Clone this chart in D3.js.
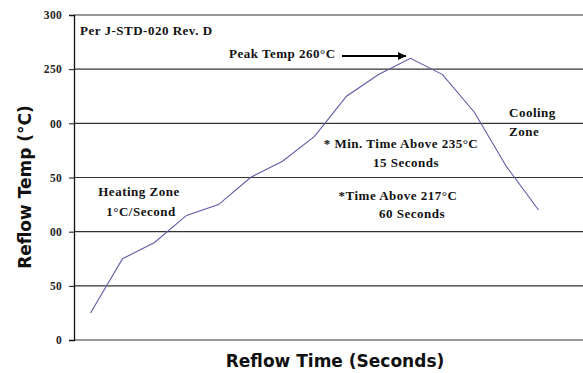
<!DOCTYPE html>
<html>
<head>
<meta charset="utf-8">
<script src="https://cdn.jsdelivr.net/npm/d3@7"></script>
<style>
  html, body { margin: 0; padding: 0; background: #fff; }
  svg { display: block; }
</style>
</head>
<body>
<svg id="chart" width="583" height="373"></svg>
<script>
// ---- data ----
const times = [0, 30, 60, 90, 120, 150, 180, 210, 240, 270, 300, 330, 360, 390, 420];
const temps = [25, 75, 90, 115, 125, 150, 165, 188, 225, 245, 260, 245, 210, 160, 120];
const yTickValues = [0, 50, 100, 150, 200, 250, 300];
const yTickLabels = ["0", "50", "00", "50", "00", "250", "300"];
const xTitle = "Reflow Time (Seconds)";
const yTitle = "Reflow Temp (°C)";

(function () {
const svg = d3.select("#chart");
const pLeft = 74, pRight = 583, pTop = 15, pBottom = 340;

const x = d3.scaleLinear().domain([-15.5, 461.7]).range([pLeft, pRight]);
const y = d3.scaleLinear().domain([0, 300]).range([pBottom, pTop]);

const serif = "'Liberation Serif', 'Times New Roman', serif";

// gridlines
svg.append("g").selectAll("line").data(yTickValues).join("line")
  .attr("x1", pLeft).attr("x2", pRight)
  .attr("y1", d => y(d)).attr("y2", d => y(d))
  .attr("stroke", d => d === 0 ? "#777" : "#333")
  .attr("stroke-width", d => d === 0 ? 1.5 : 1.2);

// y axis
const yAxis = d3.axisLeft(y).tickValues(yTickValues)
  .tickFormat((d, i) => yTickLabels[i]).tickSize(5).tickPadding(7);
const gy = svg.append("g").attr("transform", `translate(${pLeft},0)`).call(yAxis);
gy.select(".domain").attr("stroke", "#111").attr("stroke-width", 1.3);
gy.selectAll(".tick line").attr("stroke", "#111");
gy.selectAll(".tick text")
  .attr("font-family", serif).attr("font-weight", "bold")
  .attr("font-size", 11.5).attr("letter-spacing", 0.3).attr("fill", "#222");

// line
const line = d3.line().x((d, i) => x(times[i])).y(d => y(d));
svg.append("path").datum(temps)
  .attr("d", line).attr("fill", "none")
  .attr("stroke", "#5c5ca6").attr("stroke-width", 1.1);

// annotations
function label(txt, xx, yy, anchor) {
  svg.append("text").attr("x", xx).attr("y", yy)
    .attr("text-anchor", anchor || "start")
    .attr("font-family", serif).attr("font-weight", "bold")
    .attr("font-size", 13).attr("letter-spacing", 0.5)
    .attr("fill", "#111").text(txt);
}
label("Per J-STD-020 Rev. D", 80, 35);
label("Peak Temp 260°C", 229, 58);
label("Heating Zone", 139, 196, "middle");
label("1°C/Second", 141, 216, "middle");
label("* Min. Time Above 235°C", 401, 148, "middle");
label("15 Seconds", 406, 167, "middle");
label("*Time Above 217°C", 398, 200, "middle");
label("60 Seconds", 412, 218, "middle");
label("Cooling", 509, 117);
label("Zone", 509, 136);

// arrow
svg.append("defs").append("marker")
  .attr("id", "arr").attr("viewBox", "0 0 10 10")
  .attr("refX", 10).attr("refY", 5)
  .attr("markerWidth", 12).attr("markerHeight", 8)
  .attr("markerUnits", "userSpaceOnUse")
  .attr("orient", "auto")
  .append("path").attr("d", "M0,0 L10,5 L0,10 Z").attr("fill", "#000");
svg.append("line")
  .attr("x1", 342).attr("y1", 56).attr("x2", 406).attr("y2", 56)
  .attr("stroke", "#000").attr("stroke-width", 2)
  .attr("marker-end", "url(#arr)");

// axis titles
const sans = "'DejaVu Sans', Verdana, sans-serif";
svg.append("text")
  .attr("x", 335).attr("y", 367).attr("text-anchor", "middle")
  .attr("font-family", sans).attr("font-weight", 700)
  .attr("font-size", 17).attr("fill", "#111").text(xTitle);
svg.append("text")
  .attr("transform", "translate(31,187) rotate(-90)")
  .attr("text-anchor", "middle")
  .attr("font-family", sans).attr("font-weight", 700)
  .attr("font-size", 17).attr("fill", "#111").text(yTitle);
})();
</script>
</body>
</html>
